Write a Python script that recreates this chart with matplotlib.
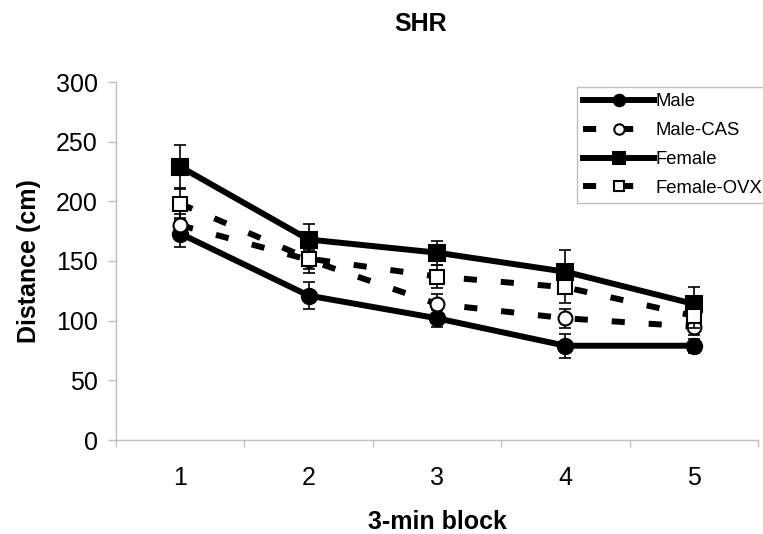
import matplotlib.pyplot as plt
import numpy as np

plt.rcParams['font.family'] = ['Liberation Sans', 'DejaVu Sans']

# data
blocks = [1, 2, 3, 4, 5]
male = [173, 121, 102, 79, 79]
male_err = [11, 11, 7, 10, 6]
male_cas = [180, 151, 114, 102, 95]
male_cas_err = [9, 8, 8, 8, 7]
female = [229, 168, 157, 141, 114]
female_err = [18, 13, 10, 18, 14]
female_ovx = [198, 152, 137, 128, 104]
female_ovx_err = [12, 12, 10, 13, 10]

series = [
    ("Male", male, male_err, 'o', 'black', '-'),
    ("Male-CAS", male_cas, male_cas_err, 'o', 'white', '--'),
    ("Female", female, female_err, 's', 'black', '-'),
    ("Female-OVX", female_ovx, female_ovx_err, 's', 'white', '--'),
]

fig = plt.figure(figsize=(7.63, 5.34), dpi=100)
ax = fig.add_axes([116 / 763, 1 - 440 / 534, (758 - 116) / 763, (440 - 82) / 534])

gray = '#c0c0c0'
for i, (label, vals, errs, marker, face, ls) in enumerate(series):
    z = 2 + i
    ax.errorbar(blocks, vals, yerr=errs, fmt='none', ecolor='black',
                elinewidth=1.2, capsize=4.3, capthick=1.2, zorder=z)
    size = 11 if face == 'black' else 10
    line, = ax.plot(blocks, vals, color='black', lw=4.3, marker=marker,
                    markersize=size, markerfacecolor=face, markeredgecolor='black',
                    markeredgewidth=1.5, label=label, zorder=z + 0.5)
    if ls == '--':
        line.set_dashes((2.2, 4.0))

ax.set_xlim(0.5, 5.5)
ax.set_ylim(0, 300)
ax.set_yticks(np.arange(0, 301, 50))
ax.set_xticks(blocks)
ax.set_xticks(np.arange(0.5, 5.6, 1), minor=True)
ax.tick_params(axis='x', which='major', length=0, labelsize=18, pad=19)
ax.tick_params(axis='x', which='minor', length=5, color=gray, width=1)
ax.tick_params(axis='y', length=6, color=gray, width=1, labelsize=18, pad=7)

for side in ['top', 'right']:
    ax.spines[side].set_visible(False)
for side in ['left', 'bottom']:
    ax.spines[side].set_color(gray)
    ax.spines[side].set_linewidth(1)

ax.set_xlabel("3-min block", fontsize=18, fontweight='bold', labelpad=14)
ax.set_ylabel("Distance (cm)", fontsize=18, fontweight='bold', labelpad=11)
fig.text(421 / 763, 1 - 24 / 534, "SHR", fontsize=18, fontweight='bold',
         ha='center', va='center')

leg = ax.legend(loc='upper left', bbox_to_anchor=(0.718, 0.986), fontsize=13.3,
                handlelength=3.8, handletextpad=0.08, labelspacing=0.64,
                borderpad=0.35, borderaxespad=0, fancybox=False, framealpha=1,
                markerscale=0.75)
leg.get_frame().set_edgecolor(gray)
leg.get_frame().set_linewidth(1)

fig.savefig('out.png', dpi=100)
